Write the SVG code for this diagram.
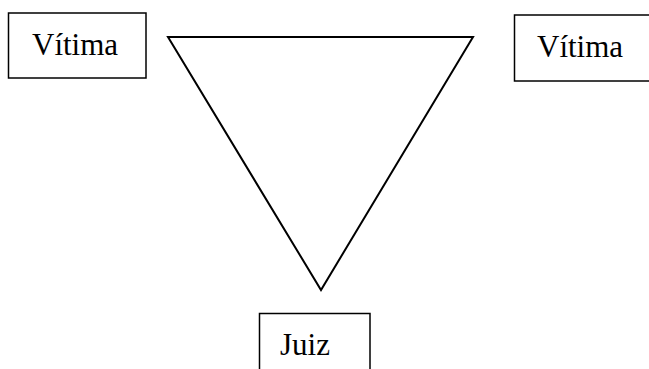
<svg xmlns="http://www.w3.org/2000/svg" width="649" height="369" viewBox="0 0 649 369">
<style>
.box{fill:#fff;stroke:#000;stroke-width:1.5}
.lbl{font-family:"Liberation Serif","Times New Roman",serif;font-size:31px;fill:#000}
.tri{fill:none;stroke:#000;stroke-width:2}
</style>
<rect width="649" height="369" fill="#fff"/>
<g id="connectors">
<polygon class="tri" points="168,37 473,37 321,290"/>
</g>
<g id="vitima1">
<rect class="box" x="8.5" y="13" width="137.5" height="65"/>
<text class="lbl" x="32" y="55">Vítima</text>
</g>
<g id="vitima2">
<rect class="box" x="514.5" y="15" width="140" height="66"/>
<text class="lbl" x="537" y="57">Vítima</text>
</g>
<g id="juiz">
<rect class="box" x="259.5" y="313.5" width="110.5" height="70"/>
<text class="lbl" x="280" y="355">Juiz</text>
</g>
</svg>
